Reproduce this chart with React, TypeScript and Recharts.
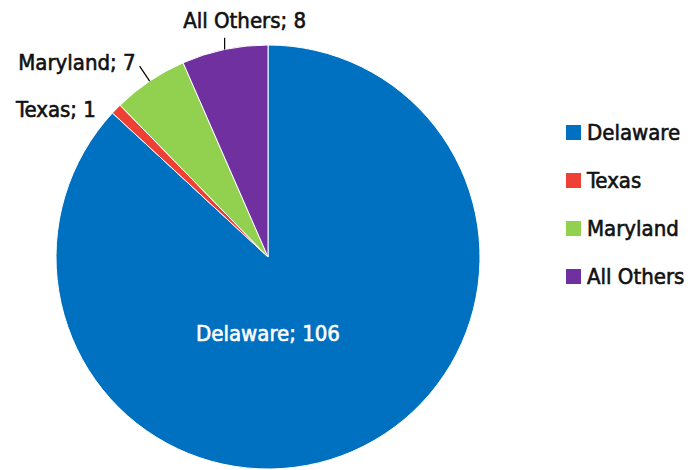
import { Legend, Pie, PieChart, Cell } from "recharts";

const states = ["Delaware", "Texas", "Maryland", "All Others"];
const counts = [106, 1, 7, 8];
const colors = ["#0070C0", "#EE4035", "#92D050", "#7030A0"];

const data = states.map((name, i) => ({ name, value: counts[i] }));

const FONT = "'DejaVu Sans Condensed', 'Liberation Sans Narrow', sans-serif";
const RAD = Math.PI / 180;

// per-label tweaks for the outside callouts (line length, text nudge)
const callouts: Record<string, { len: number; dx: number; dy: number; anchor: "start" | "middle" | "end"; line: boolean }> = {
  Texas: { len: 6, dx: -16, dy: 5, anchor: "end", line: false },
  Maryland: { len: 18, dx: -4, dy: -4, anchor: "end", line: true },
  "All Others": { len: 12, dx: 20, dy: -17, anchor: "middle", line: true },
};

function renderLabel(props: any) {
  const { cx, cy, midAngle, outerRadius, name, value } = props;
  const text = `${name}; ${value}`;
  if (name === "Delaware") {
    return (
      <text x={cx} y={cy + outerRadius * 0.36} textAnchor="middle" dominantBaseline="central"
        fill="#ffffff" stroke="#ffffff" strokeWidth={0.6} fontSize={22} fontFamily={FONT}>
        {text}
      </text>
    );
  }
  const c = callouts[name];
  const cos = Math.cos(-midAngle * RAD);
  const sin = Math.sin(-midAngle * RAD);
  const x1 = cx + outerRadius * cos;
  const y1 = cy + outerRadius * sin;
  const x2 = name === "All Others" ? x1 : cx + (outerRadius + c.len) * cos;
  const y2 = cy + (outerRadius + c.len) * sin;
  return (
    <g>
      {c.line && <line x1={x1} y1={y1} x2={x2} y2={y2} stroke="#000" strokeWidth={1.2} />}
      <text x={x2 + c.dx} y={y2 + c.dy} textAnchor={c.anchor} dominantBaseline="central"
        fill="#111" stroke="#111" strokeWidth={0.6} fontSize={22} fontFamily={FONT}>
        {text}
      </text>
    </g>
  );
}

function LegendList() {
  return (
    <div style={{ fontFamily: FONT, fontSize: 22, color: "#111", whiteSpace: "nowrap", WebkitTextStroke: "0.6px #111" }}>
      {data.map((d, i) => (
        <div key={d.name} style={{ display: "flex", alignItems: "center", height: 48 }}>
          <span style={{ width: 15, height: 15, background: colors[i], marginRight: 6, display: "inline-block" }} />
          <span>{d.name}</span>
        </div>
      ))}
    </div>
  );
}

export default function App() {
  return (
    <div style={{ position: "fixed", left: 0, top: 0, background: "#fff" }}>
      <PieChart width={690} height={470} margin={{ top: 0, right: 0, bottom: 0, left: 0 }}>
        <Pie
          data={data}
          dataKey="value"
          nameKey="name"
          cx={268}
          cy={257}
          outerRadius={212}
          startAngle={90}
          endAngle={-270}
          stroke="#ffffff"
          strokeWidth={1}
          label={renderLabel}
          labelLine={false}
          isAnimationActive={false}
        >
          {data.map((d, i) => (
            <Cell key={d.name} fill={colors[i]} />
          ))}
        </Pie>
        <Legend
          layout="vertical"
          align="right"
          verticalAlign="top"
          content={<LegendList />}
          wrapperStyle={{ left: 566, top: 108, width: 124 }}
        />
      </PieChart>
    </div>
  );
}
